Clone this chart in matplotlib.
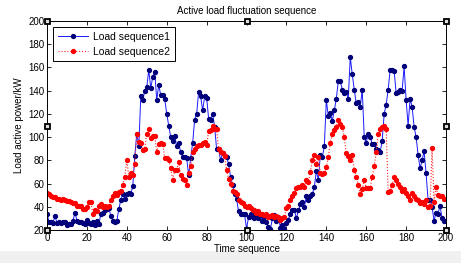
import numpy as np
import matplotlib
matplotlib.use("Agg")
import matplotlib.pyplot as plt
from matplotlib.patches import Rectangle

plt.rcParams['font.family'] = ['Liberation Sans', 'DejaVu Sans']

# time index 0..200
t = np.arange(0, 201)

load1 = [
    34, 27, 27, 26, 32, 26, 27, 26, 27, 27,
    24, 25, 25, 28, 35, 28, 27, 27, 26, 25,
    29, 26, 25, 27, 24, 28, 25, 34, 35, 37,
    38, 39, 32, 28, 27, 28, 38, 46, 51, 47,
    51, 52, 51, 58, 84, 103, 92, 135, 132, 140,
    143, 158, 142, 152, 156, 132, 145, 136, 136, 133,
    120, 110, 100, 97, 101, 92, 95, 87, 83, 83,
    82, 67, 82, 95, 115, 120, 139, 135, 123, 135,
    134, 116, 115, 120, 109, 90, 90, 80, 86, 84,
    83, 77, 66, 59, 51, 47, 36, 34, 34, 34,
    21, 31, 34, 31, 30, 34, 30, 33, 28, 31,
    27, 23, 21, 30, 33, 28, 31, 22, 24, 21,
    26, 29, 34, 37, 37, 30, 37, 42, 44, 40,
    49, 46, 49, 51, 57, 71, 63, 85, 83, 92,
    132, 118, 121, 114, 123, 133, 148, 148, 141, 138,
    139, 133, 169, 154, 141, 129, 130, 126, 141, 100,
    95, 103, 100, 94, 94, 90, 89, 87, 97, 120,
    128, 141, 158, 158, 157, 138, 139, 141, 140, 161,
    132, 110, 133, 126, 109, 100, 85, 73, 80, 88,
    69, 46, 46, 40, 28, 35, 34, 41, 30, 28,
    28,
]

load2 = [
    52, 51, 49, 48, 48, 47, 47, 46, 47, 46,
    45, 45, 44, 43, 43, 41, 41, 41, 38, 38,
    40, 44, 44, 34, 37, 36, 41, 42, 40, 41,
    40, 41, 46, 49, 52, 50, 53, 54, 59, 66,
    80, 66, 69, 67, 77, 103, 96, 95, 89, 90,
    103, 107, 99, 101, 101, 87, 94, 95, 94, 82,
    82, 80, 73, 63, 72, 72, 79, 67, 64, 63,
    59, 69, 75, 87, 90, 92, 93, 93, 95, 96,
    93, 105, 106, 110, 107, 107, 90, 87, 86, 84,
    72, 64, 60, 54, 53, 51, 46, 44, 43, 41,
    40, 41, 39, 37, 37, 35, 36, 34, 34, 33,
    34, 31, 32, 33, 31, 32, 31, 29, 30, 31,
    39, 41, 46, 49, 52, 56, 57, 57, 59, 57,
    63, 61, 70, 80, 85, 77, 83, 69, 68, 69,
    74, 83, 95, 103, 106, 109, 115, 111, 109, 100,
    86, 84, 80, 85, 72, 66, 59, 51, 55, 63,
    56, 56, 56, 66, 75, 87, 103, 107, 109, 110,
    107, 53, 54, 59, 66, 63, 60, 57, 54, 55,
    52, 49, 46, 52, 49, 47, 46, 43, 44, 42,
    46, 40, 41, 91, 44, 57, 50, 49, 49, 47,
    47,
]

fig = plt.figure(figsize=(4.61, 2.63), dpi=100)
fig.patches.append(Rectangle((0, 0), 1, 0.045, transform=fig.transFigure,
                             facecolor='#f0f0f0', edgecolor='none', zorder=-1))
ax = fig.add_axes([0.102, 0.1255, 0.8655, 0.7945])

ax.plot(t, load1, color='#1a1aff', lw=0.7, ls='-', marker='o', markersize=2.8,
        markerfacecolor='#00007a', markeredgecolor='#00007a',
        label='Load sequence1')
ax.plot(t, load2, color='#ff2020', lw=0.8, ls=':', marker='o', markersize=2.8,
        markerfacecolor='#ff0000', markeredgecolor='#ff0000',
        label='Load sequence2')

ax.set_xlim(0, 200)
ax.set_ylim(20, 200)
ax.set_xticks(np.arange(0, 201, 20))
ax.set_yticks(np.arange(20, 201, 20))
ax.tick_params(direction='in', length=3, width=0.6, labelsize=7,
               top=True, right=True, pad=2)
for s in ax.spines.values():
    s.set_linewidth(0.7)

ax.set_title('Active load fluctuation sequence', fontsize=7, pad=5)
ax.set_xlabel('Time sequence', fontsize=7, labelpad=1)
ax.set_ylabel('Load active power/kW', fontsize=7, labelpad=3)

leg = ax.legend(loc='upper left', fontsize=7.5, fancybox=False,
                edgecolor='black', framealpha=1, borderpad=0.45,
                handlelength=2.9, handletextpad=0.5, labelspacing=0.45,
                borderaxespad=0.6)
leg.get_frame().set_linewidth(0.7)

# selection handles on the axes box
hx = [0, 0.5, 1, 0, 1, 0, 0.5, 1]
hy = [0, 0, 0, 0.5, 0.5, 1, 1, 1]
ax.plot(hx, hy, ls='none', marker='s', markersize=3.6, markerfacecolor='#dddddd',
        markeredgecolor='black', markeredgewidth=1.3,
        transform=ax.transAxes, clip_on=False, zorder=5)

fig.savefig('out.png', dpi=100)
